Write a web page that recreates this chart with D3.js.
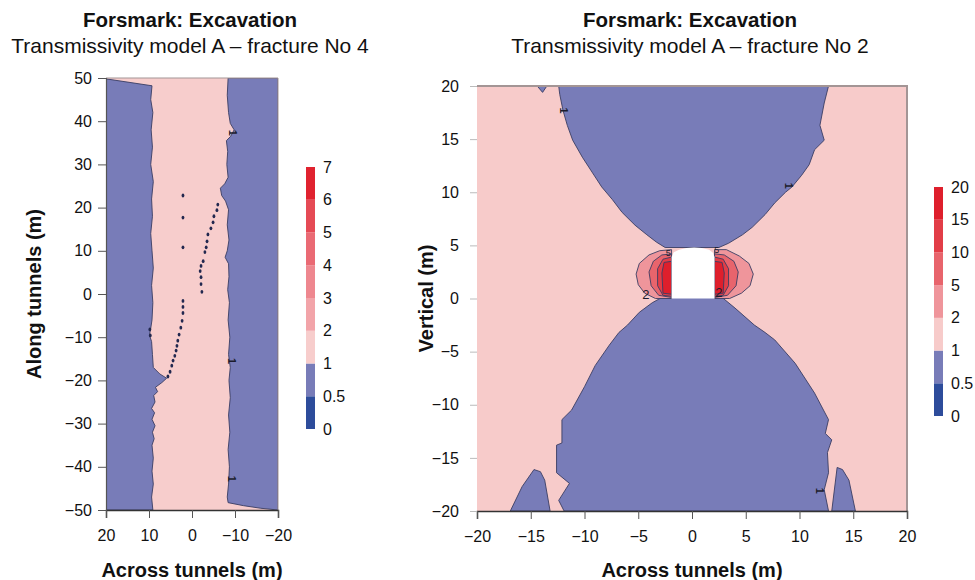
<!DOCTYPE html>
<html>
<head>
<meta charset="utf-8">
<script src="https://cdn.jsdelivr.net/npm/d3@7"></script>
<style>
  body { margin: 0; background: #fff; }
  svg { display: block; font-family: "Liberation Sans", Arial, sans-serif; }
</style>
</head>
<body>
<svg id="chart" width="975" height="580"></svg>
<script>
// ---- Colour levels (contour band lower bounds) ----
const leftLevels = [0, 0.5, 1, 2, 3, 4, 5, 6, 7];
const leftLevelLabels = ["0", "0.5", "1", "2", "3", "4", "5", "6", "7"];
const leftBandColors = ["#2d4c9b", "#787cb8", "#f7cdcc", "#f2a4a9", "#ee878f", "#ea6a74", "#e54a55", "#e0222f"];

const rightLevels = [0, 0.5, 1, 2, 5, 10, 15, 20];
const rightLevelLabels = ["0", "0.5", "1", "2", "5", "10", "15", "20"];
const rightBandColors = ["#2d4c9b", "#787cb8", "#f7cbca", "#ef959b", "#e8646c", "#e23d47", "#de1f2c"];

// ---- Axis ticks ----
const leftXTicks = [20, 10, 0, -10, -20];
const leftYTicks = [50, 40, 30, 20, 10, 0, -10, -20, -30, -40, -50];
const rightXTicks = [-20, -15, -10, -5, 0, 5, 10, 15, 20];
const rightYTicks = [20, 15, 10, 5, 0, -5, -10, -15, -20];

// ---- Fracture No 4 (plan view): regions below T = 1 ----
const leftWestRegion = [[20,49.8],[9.3,48.2],[9.6,45],[9.1,42],[9.5,38],[9.2,34],[9.6,30],[9.0,26],[9.4,22],[9.2,18],[9.6,14],[9.3,10],[9.0,6],[9.4,2],[9.1,-2],[9.3,-6],[9.6,-8],[9.9,-9.5],[9.4,-11],[9.2,-14],[9.0,-17],[7.5,-18.5],[5.9,-19.5],[7.0,-20.5],[8.5,-21.6],[8.0,-22.6],[8.9,-23.5],[8.6,-25],[9.4,-26.5],[8.7,-27.5],[9.3,-29],[8.6,-30.5],[9.2,-32],[8.8,-33.5],[9.3,-35],[9.0,-38],[9.3,-41],[9.0,-44],[9.4,-47],[9.1,-50],[20,-50]];
const leftEastRegion = [[-8.4,50],[-8.2,46],[-8.5,42],[-8.9,39.5],[-9.8,38],[-9.0,36.5],[-8.0,35.5],[-8.3,33],[-8.1,30],[-8.4,27],[-7.6,25.5],[-6.6,24.5],[-6.9,22.8],[-7.8,21.5],[-8.5,19.5],[-8.2,16],[-8.6,12.5],[-8.2,10],[-7.7,8.5],[-8.5,7],[-8.6,4],[-8.3,1],[-8.7,-2],[-8.4,-6],[-8.8,-10],[-8.5,-14],[-8.9,-17],[-8.6,-20],[-8.9,-24],[-8.5,-28],[-8.8,-32],[-8.4,-36],[-8.7,-40],[-8.5,-44],[-8.2,-47],[-8.4,-48.3],[-12,-49],[-16,-49.6],[-20,-50],[-20,50]];
const leftRegionLevels = [0.5, 0.5];

// small closed low-T spots along the fracture trace
const leftSpotX = [-6.0,-5.8,-5.1,-4.9,-4.4,-3.7,-3.5,-3.3,-3.0,-2.6,-2.1,-1.9,-2.1,-2.1,-2.3,2.1,2.1,2.1,2.3,2.6,3.0,3.3,3.5,3.7,4.0,4.4,4.7,5.1,5.6,2.1,2.1,2.1,9.8,9.7];
const leftSpotY = [20.7,19.4,18.0,16.6,15.2,13.8,12.2,10.8,9.7,7.6,6.5,5.3,3.9,2.3,0.5,-1.6,-3.0,-4.4,-6.2,-7.8,-9.4,-10.8,-12.0,-13.1,-14.3,-15.4,-16.6,-18.0,-19.1,22.8,17.7,10.8,-8.2,-9.6];

// contour labels (value 1)
const leftLabelX = [-9.6, -9.3, -9.3];
const leftLabelY = [37.3, -15.5, -42.8];
const leftLabelVal = [1, 1, 1];

// ---- Fracture No 2 (tunnel section) ----
const rightUpperRegion = [[-12.4,20],[-12.3,19.2],[-12.0,17.7],[-11.6,16.3],[-11.1,14.9],[-10.2,13.3],[-9.3,11.9],[-8.4,10.5],[-7.4,9.3],[-6.5,8.1],[-5.3,6.9],[-4.2,6.0],[-3.3,5.3],[-2.5,4.8],[2.5,4.8],[3.4,5.2],[4.7,6.0],[5.6,6.7],[6.8,7.9],[7.7,9.0],[8.7,10.0],[9.3,10.5],[10.2,11.6],[10.9,12.6],[11.4,14.0],[12.3,14.9],[11.9,16.3],[12.3,18.4],[12.7,20]];
const rightLowerRegion = [[-2.8,0.1],[-3.7,-0.4],[-4.9,-1.3],[-6.0,-2.5],[-6.8,-3.2],[-7.7,-4.4],[-9.0,-6.3],[-10.0,-8.3],[-11.2,-10.5],[-12.1,-11.4],[-12.1,-13.6],[-12.6,-13.8],[-12.6,-16.4],[-11.4,-17.4],[-12.4,-19.0],[-11.9,-20],[12.7,-20],[12.3,-18.0],[12.7,-16.4],[12.6,-14.5],[13.0,-13.3],[12.4,-12.7],[12.7,-11.4],[11.4,-8.9],[9.6,-6.1],[7.7,-3.9],[6.8,-3.2],[5.8,-2.5],[4.0,-0.9],[2.8,0.1]];
const rightIslandWest = [[-16.9,-20],[-15.8,-17.7],[-14.7,-16.1],[-14.1,-16.3],[-13.7,-17.1],[-13.2,-20]];
const rightIslandEast = [[13.0,-20],[13.5,-15.9],[14.0,-16.1],[14.6,-17.1],[15.2,-20]];
const rightCornerSpot = [[-14.4,20],[-13.5,20],[-13.9,19.4]];

// high-T zones beside the tunnel walls (west, then east)
const rightWest2 = [[-1.9,4.6],[-3.0,4.5],[-4.0,4.1],[-4.9,3.3],[-5.2,2.3],[-5.0,1.3],[-4.4,0.5],[-3.4,0.0],[-1.9,0.0]];
const rightWest5 = [[-1.9,4.2],[-2.8,4.1],[-3.6,3.5],[-4.0,2.5],[-3.8,1.2],[-3.1,0.3],[-1.9,0.1]];
const rightWest10 = [[-1.9,3.9],[-2.7,3.7],[-3.2,2.8],[-3.2,1.2],[-2.7,0.3],[-1.9,0.2]];
const rightWest15 = [[-1.9,3.5],[-2.6,3.4],[-2.8,2.4],[-2.7,0.5],[-1.9,0.4]];
const rightEast2 = [[2.1,4.6],[3.2,4.6],[4.4,4.0],[5.3,3.3],[5.7,2.3],[5.4,1.2],[4.6,0.5],[3.5,0.0],[2.1,0.0]];
const rightEast5 = [[2.1,4.2],[3.0,4.1],[3.9,3.5],[4.3,2.5],[4.1,1.2],[3.3,0.3],[2.1,0.1]];
const rightEast10 = [[2.1,3.9],[2.9,3.7],[3.4,2.8],[3.4,1.2],[2.9,0.3],[2.1,0.2]];
const rightEast15 = [[2.1,3.5],[2.8,3.4],[3.0,2.4],[2.9,0.5],[2.1,0.4]];

const tunnelOutline = [[-1.9,0],[-1.9,3.9],[-1.7,4.35],[-1.2,4.6],[-0.5,4.75],[0.2,4.8],[0.9,4.75],[1.6,4.6],[1.95,4.3],[2.1,3.9],[2.1,0]];

const rightLabelX = [-11.9, 9.0, 11.9, -4.3, 2.5, -2.2, 2.3];
const rightLabelY = [17.7, 10.6, -18.1, 0.4, 0.6, 4.3, 4.6];
const rightLabelVal = [1, 1, 1, 2, 2, 5, 5];

// ---------------------------------------------------------------
const svg = d3.select("#chart");
const FONT = "'Liberation Sans', Arial, sans-serif";
const EDGE = "#3a3d63";
const TICK_FONT = 16;

function drawPanel(cfg) {
  const g = svg.append("g");
  const x = d3.scaleLinear().domain(cfg.xDomain).range(cfg.xRange);
  const y = d3.scaleLinear().domain(cfg.yDomain).range(cfg.yRange);
  const color = d3.scaleThreshold().domain(cfg.levels.slice(1, -1)).range(cfg.colors);
  const line = d3.line().x(d => x(d[0])).y(d => y(d[1]));

  const clipId = cfg.id + "-clip";
  g.append("clipPath").attr("id", clipId).append("rect")
    .attr("x", cfg.xRange[0]).attr("y", cfg.yRange[1])
    .attr("width", cfg.xRange[1] - cfg.xRange[0]).attr("height", cfg.yRange[0] - cfg.yRange[1]);

  const plot = g.append("g").attr("clip-path", `url(#${clipId})`);
  plot.append("rect")
    .attr("x", cfg.xRange[0]).attr("y", cfg.yRange[1])
    .attr("width", cfg.xRange[1] - cfg.xRange[0]).attr("height", cfg.yRange[0] - cfg.yRange[1])
    .attr("fill", color(cfg.background));

  cfg.regions.forEach(r => {
    plot.append("path")
      .attr("d", line(r.pts) + "Z")
      .attr("fill", color(r.level))
      .attr("stroke", EDGE).attr("stroke-width", 0.9).attr("stroke-linejoin", "round");
  });

  if (cfg.spots) {
    plot.selectAll(".spot").data(cfg.spots).join("ellipse")
      .attr("cx", d => x(d[0])).attr("cy", d => y(d[1]))
      .attr("rx", 1.4).attr("ry", 1.9)
      .attr("fill", "#22284f");
  }

  if (cfg.hole) {
    plot.append("path").attr("d", line(cfg.hole) + "Z").attr("fill", "#ffffff").attr("stroke", "none");
  }

  plot.selectAll(".clabel").data(cfg.labels).join("text")
    .attr("transform", d => `translate(${x(d.x)},${y(d.y)}) rotate(${d.v === 1 ? 90 : 0})`)
    .attr("text-anchor", "middle").attr("dominant-baseline", "central")
    .attr("font-family", FONT).attr("font-size", d => d.v === 1 ? 11 : (d.v === 2 ? 13 : 9))
    .attr("font-weight", d => d.v === 1 ? "bold" : "normal")
    .attr("fill", "#1c1c2c")
    .text(d => d.v);

  // frame (top / right)
  g.append("path")
    .attr("d", `M${cfg.xRange[0]},${cfg.yRange[1]}H${cfg.xRange[1]}V${cfg.yRange[0]}`)
    .attr("fill", "none").attr("stroke", "#a39595").attr("stroke-width", cfg.frameWidth);

  // axes
  const fmt = d => d3.format("")(d).replace("-", "\u2212");
  const xAxis = g.append("g").attr("transform", `translate(0,${cfg.yRange[0]})`)
    .call(d3.axisBottom(x).tickValues(cfg.xTicks).tickSize(8).tickPadding(12).tickFormat(fmt));
  xAxis.select(".domain").attr("stroke", "#333").attr("stroke-width", 1.5);
  xAxis.selectAll(".tick line").attr("stroke", "#555");
  xAxis.selectAll("text").attr("font-family", FONT).attr("font-size", TICK_FONT).attr("fill", "#111");

  const yAxis = g.append("g").attr("transform", `translate(${cfg.xRange[0]},0)`)
    .call(d3.axisLeft(y).tickValues(cfg.yTicks).tickSize(cfg.yTickSize).tickPadding(cfg.yTickPad).tickFormat(fmt));
  yAxis.select(".domain").attr("stroke", cfg.yDomainColor).attr("stroke-width", 1.2);
  yAxis.selectAll(".tick line").attr("stroke", cfg.yTickColor);
  yAxis.selectAll("text").attr("font-family", FONT).attr("font-size", TICK_FONT).attr("fill", "#111");

  // colour bar
  const cb = g.append("g");
  const cy = d3.scalePoint().domain(cfg.levels).range([cfg.cbar.bottom, cfg.cbar.top]);
  cb.selectAll("rect").data(cfg.levels.slice(0, -1)).join("rect")
    .attr("x", cfg.cbar.x).attr("width", cfg.cbar.w)
    .attr("y", (d, i) => cy(cfg.levels[i + 1]))
    .attr("height", (d, i) => cy(cfg.levels[i]) - cy(cfg.levels[i + 1]))
    .attr("fill", d => color(d));
  cb.selectAll("text").data(cfg.levels).join("text")
    .attr("x", cfg.cbar.x + cfg.cbar.w + 8).attr("y", d => cy(d))
    .attr("dominant-baseline", "central")
    .attr("font-family", FONT).attr("font-size", TICK_FONT).attr("fill", "#111")
    .text((d, i) => cfg.levelLabels[i]);

  // titles
  const cx = (cfg.xRange[0] + cfg.xRange[1]) / 2;
  svg.append("text").attr("x", cfg.titleX).attr("y", 27).attr("text-anchor", "middle")
    .attr("font-family", FONT).attr("font-weight", "bold").attr("font-size", 20.5).attr("fill", "#111")
    .text("Forsmark: Excavation");
  svg.append("text").attr("x", cfg.titleX).attr("y", 53).attr("text-anchor", "middle")
    .attr("font-family", FONT).attr("font-size", 21).attr("fill", "#111")
    .text(cfg.subtitle);
  svg.append("text").attr("x", cx).attr("y", 577).attr("text-anchor", "middle")
    .attr("font-family", FONT).attr("font-weight", "bold").attr("font-size", 20).attr("fill", "#111")
    .text("Across tunnels (m)");
  svg.append("text")
    .attr("transform", `translate(${cfg.yTitleX},${(cfg.yRange[0] + cfg.yRange[1]) / 2}) rotate(-90)`)
    .attr("text-anchor", "middle").attr("dominant-baseline", "central")
    .attr("font-family", FONT).attr("font-weight", "bold").attr("font-size", 20).attr("fill", "#111")
    .text(cfg.yTitle);
}

const zipLabels = (xs, ys, vs) => xs.map((v, i) => ({ x: v, y: ys[i], v: vs[i] }));

drawPanel({
  id: "left",
  xDomain: [20, -20], xRange: [106, 278],
  yDomain: [-50, 50], yRange: [510, 78],
  levels: leftLevels, levelLabels: leftLevelLabels, colors: leftBandColors,
  background: 1,
  regions: [
    { level: leftRegionLevels[0], pts: leftWestRegion },
    { level: leftRegionLevels[1], pts: leftEastRegion }
  ],
  spots: leftSpotX.map((v, i) => [v, leftSpotY[i]]),
  labels: zipLabels(leftLabelX, leftLabelY, leftLabelVal),
  xTicks: leftXTicks, yTicks: leftYTicks,
  yTickSize: 8, yTickPad: 6, yTickColor: "#555", yDomainColor: "#555",
  frameWidth: 1,
  cbar: { x: 306, w: 9, top: 167, bottom: 429 },
  titleX: 190,
  subtitle: "Transmissivity model A \u2013 fracture No 4",
  yTitle: "Along tunnels (m)", yTitleX: 34
});

drawPanel({
  id: "right",
  xDomain: [-20, 20], xRange: [477, 907],
  yDomain: [-20, 20], yRange: [511, 86],
  levels: rightLevels, levelLabels: rightLevelLabels, colors: rightBandColors,
  background: 1,
  regions: [
    { level: 0.5, pts: rightUpperRegion },
    { level: 0.5, pts: rightLowerRegion },
    { level: 0.5, pts: rightIslandWest },
    { level: 0.5, pts: rightIslandEast },
    { level: 0.5, pts: rightCornerSpot },
    { level: 2, pts: rightWest2 }, { level: 5, pts: rightWest5 },
    { level: 10, pts: rightWest10 }, { level: 15, pts: rightWest15 },
    { level: 2, pts: rightEast2 }, { level: 5, pts: rightEast5 },
    { level: 10, pts: rightEast10 }, { level: 15, pts: rightEast15 }
  ],
  hole: tunnelOutline,
  labels: zipLabels(rightLabelX, rightLabelY, rightLabelVal),
  xTicks: rightXTicks, yTicks: rightYTicks,
  yTickSize: 7, yTickPad: 11, yTickColor: "#bbb", yDomainColor: "none",
  frameWidth: 2,
  cbar: { x: 934, w: 9, top: 187, bottom: 416 },
  titleX: 690,
  subtitle: "Transmissivity model A \u2013 fracture No 2",
  yTitle: "Vertical (m)", yTitleX: 426
});
</script>
</body>
</html>
